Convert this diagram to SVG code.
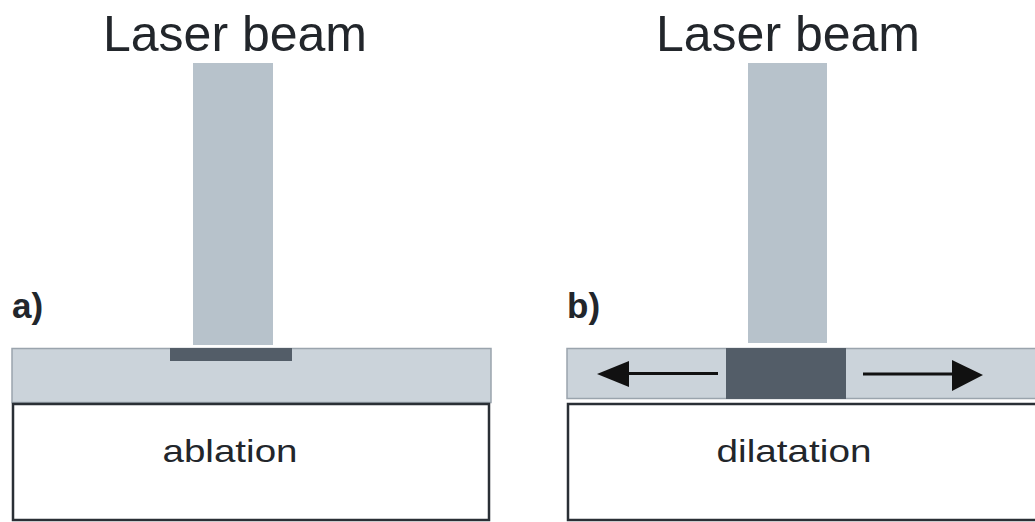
<svg xmlns="http://www.w3.org/2000/svg" width="1035" height="522" viewBox="0 0 1035 522">
<style>
.t{font-family:"Liberation Sans",Arial,sans-serif;fill:#22262b}
.beam{fill:#b7c2cb}
.layer{fill:#cbd3da;stroke:#9aa4ad;stroke-width:1.5}
.dark{fill:#535d68}
.sub{fill:#ffffff;stroke:#2a2f35;stroke-width:2.5}
.arr{stroke:#111;stroke-width:3;fill:none}
.head{fill:#111}
</style>
<rect width="1035" height="522" fill="#ffffff"/>
<g id="panel-a">
  <text class="t" x="235" y="51" font-size="50" text-anchor="middle">Laser beam</text>
  <rect id="beam-a" class="beam" x="193" y="63" width="80" height="282"/>
  <text class="t" x="12" y="318" font-size="35" font-weight="bold">a)</text>
  <rect id="layer-a" class="layer" x="12" y="348.5" width="479" height="54"/>
  <rect id="ablated" class="dark" x="170" y="348" width="122" height="13"/>
  <rect id="substrate-a" class="sub" x="13" y="404" width="476" height="116"/>
  <text class="t" x="230" y="462" font-size="32" text-anchor="middle" textLength="135" lengthAdjust="spacingAndGlyphs">ablation</text>
</g>
<g id="panel-b">
  <text class="t" x="788" y="51" font-size="50" text-anchor="middle">Laser beam</text>
  <rect id="beam-b" class="beam" x="748" y="63" width="79" height="280"/>
  <text class="t" x="567" y="318" font-size="35" font-weight="bold">b)</text>
  <rect id="layer-b" class="layer" x="567" y="348.5" width="475" height="50"/>
  <rect id="heated" class="dark" x="726" y="348" width="120" height="51"/>
  <rect id="substrate-b" class="sub" x="568" y="404" width="475" height="116"/>
  <text class="t" x="794" y="462" font-size="32" text-anchor="middle" textLength="155" lengthAdjust="spacingAndGlyphs">dilatation</text>
</g>
<g id="connectors">
  <line class="arr" x1="718" y1="373.5" x2="626" y2="373.5"/>
  <polygon class="head" points="597,374 629,361 629,387"/>
  <line class="arr" x1="863" y1="374" x2="955" y2="374"/>
  <polygon class="head" points="983,375 952,360 952,391"/>
</g>
</svg>
